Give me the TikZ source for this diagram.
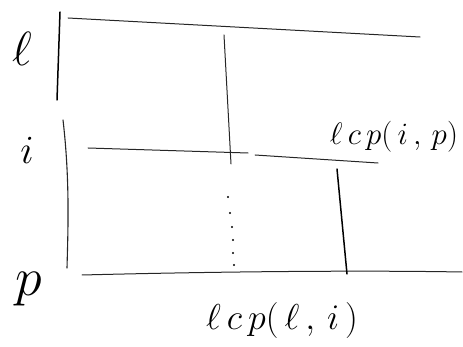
\RequirePackage{fix-cm}
\documentclass[tikz,border=0pt]{standalone}
\begin{document}
\begin{tikzpicture}[x=1pt,y=-1pt,
  stroke/.style={line width=1pt,draw=black!85,line cap=round},
  heavy/.style={line width=1.5pt,draw=black,line cap=round},
  lbl/.style={inner sep=0pt,font=\fontsize{48}{56}\selectfont},
  tag/.style={inner sep=0pt,font=\fontsize{31}{37}\selectfont}]
\useasboundingbox (0,0) rectangle (463,347);

% row labels
\node[lbl] (rl) at (22,49) {$\ell$};
\node[lbl,font=\fontsize{40}{46}\selectfont] (ri) at (27,150) {$i$};
\node[lbl,font=\fontsize{54}{60}\selectfont] (rp) at (29,289) {$p$};

% left border, drawn in two strokes
\draw[heavy] (60,12) -- (57,100);
\draw[stroke,line width=1.1pt] (63,120) .. controls (70,180) and (68,230) .. (67,268);

% horizontal rows
\draw[stroke] (68,18) -- (420,37);
\draw[stroke] (88,148) -- (248,153);
\draw[stroke] (255,155) -- (378,163);
\draw[stroke] (82,275) .. controls (200,272) and (350,270) .. (462,272);

% column through the upper rows
\draw[stroke] (224,35) -- (231,164);

% dotted continuation of the column
\foreach \x/\y in {228/197,230/213,232/227,233/240,233/253,234/265}
  \fill[black] (\x,\y) circle (1.1pt);

% lcp column
\draw[heavy] (337,169) -- (347,274);

% labels
\node[tag] (t1) at (394,137) {$\ell\,c\,p(\,i\,,\,p)$};
\node[tag,font=\fontsize{36}{42}\selectfont] (t2) at (282,321) {$\ell\,c\,p(\,\ell\,,\,i\,)$};
\end{tikzpicture}
\end{document}
